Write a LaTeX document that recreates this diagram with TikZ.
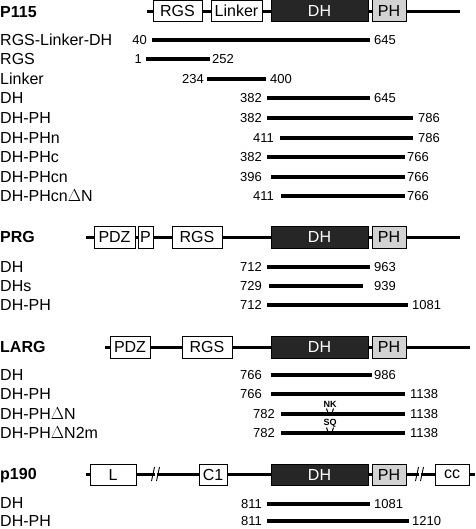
\documentclass[tikz,border=0pt]{standalone}
\usepackage{fontspec}
\setmainfont{Liberation Sans}
\definecolor{dhfill}{HTML}{262626}
\definecolor{phfill}{HTML}{D2D2D2}
\tikzset{
  lab/.style={anchor=base west, inner sep=0pt, font=\fontsize{16}{16}\selectfont},
  hdr/.style={anchor=base west, inner sep=0pt, font=\fontsize{16}{16}\selectfont\bfseries},
  numl/.style={anchor=base east, inner sep=0pt, font=\fontsize{13}{13}\selectfont},
  numr/.style={anchor=base west, inner sep=0pt, font=\fontsize{13}{13}\selectfont},
  dline/.style={line width=3pt},
  fline/.style={line width=4pt},
  dom/.style={draw=black, line width=1pt, fill=white, inner sep=0pt, font=\fontsize{16}{16}\selectfont},
  dhbox/.style={dom, fill=dhfill, text=white},
  phbox/.style={dom, fill=phfill},
  mut/.style={inner sep=0pt, font=\fontsize{9}{9}\selectfont\bfseries},
}
% #1 name, #2 y, #3 x1, #4 x2, #5 left number, #6 left number end x, #7 right number, #8 right number start x
\newcommand{\fragrow}[8]{%
  \coordinate (#1a) at (#3,#2);
  \coordinate (#1b) at (#4,#2);
  \draw[fline] (#1a) -- (#1b);
  \node[numl] (#1l) at (#6,#2+4.7) {#5};
  \node[numr] (#1r) at (#8,#2+4.7) {#7};
}
\begin{document}
\begin{tikzpicture}[x=1pt,y=-1pt]
\useasboundingbox (0,0) rectangle (475,529);

%%% P115
\node[hdr] (hp115) at (0,17.7) {P115};
\coordinate (p115s) at (147,12);
\coordinate (p115e) at (460,12);
\draw[dline] (p115s) -- (p115e);
\node[dom, minimum width=49pt, minimum height=21pt] (p115rgs) at (177.5,11) {RGS};
\node[dom, minimum width=51pt, minimum height=21pt] (p115lnk) at (236.5,11) {Linker};
\node[dhbox, minimum width=97pt, minimum height=22pt] (p115dh) at (319.5,11) {DH};
\node[phbox, minimum width=34pt, minimum height=22pt] (p115ph) at (389,11) {PH};

\node[lab] (l1) at (0,45.7) {RGS-Linker-DH};
\node[lab] (l2) at (0,64.7) {RGS};
\node[lab] (l3) at (0,84.7) {Linker};
\node[lab] (l4) at (0,103.7) {DH};
\node[lab] (l5) at (0,123.7) {DH-PH};
\node[lab] (l6) at (0,143.7) {DH-PHn};
\node[lab] (l7) at (0,162.7) {DH-PHc};
\node[lab] (l8) at (0,182.7) {DH-PHcn};
\node[lab] (l9) at (0,201.7) {DH-PHcn$\Delta$N};

\fragrow{fa}{40}{152}{370}{40}{147}{645}{374}
\fragrow{fb}{59}{146}{210}{1}{142}{252}{212}
\fragrow{fc}{79}{207}{266}{234}{204}{400}{270}
\fragrow{fd}{98}{267}{370}{382}{262}{645}{374}
\fragrow{fe}{118}{267}{413}{382}{262}{786}{418}
\fragrow{ff}{138}{280}{413}{411}{274}{786}{418}
\fragrow{fg}{157}{267}{405}{382}{262}{766}{407}
\fragrow{fh}{177}{271}{405}{396}{262}{766}{407}
\fragrow{fi}{196}{281}{405}{411}{274}{766}{407}

%%% PRG
\node[hdr] (hprg) at (0,242.7) {PRG};
\coordinate (prgs) at (86,237);
\coordinate (prge) at (460,237);
\draw[dline] (prgs) -- (prge);
\node[dom, minimum width=41pt, minimum height=22pt] (prgpdz) at (114.5,237) {PDZ};
\node[dom, minimum width=15pt, minimum height=22pt] (prgp) at (145.5,237) {P};
\node[dom, minimum width=50pt, minimum height=22pt] (prgrgs) at (197,237) {RGS};
\node[dhbox, minimum width=97pt, minimum height=22pt] (prgdh) at (319.5,237) {DH};
\node[phbox, minimum width=34pt, minimum height=22pt] (prgph) at (389,237) {PH};

\node[lab] (m1) at (0,272.7) {DH};
\node[lab] (m2) at (0,291.7) {DHs};
\node[lab] (m3) at (0,310.7) {DH-PH};

\fragrow{ga}{267}{267}{370}{712}{262}{963}{374}
\fragrow{gb}{286}{269}{363}{729}{262}{939}{374}
\fragrow{gc}{305}{267}{408}{712}{262}{1081}{412}

%%% LARG
\node[hdr] (hlarg) at (0,352.7) {LARG};
\coordinate (largs) at (105,347);
\coordinate (large) at (470,347);
\draw[dline] (largs) -- (large);
\node[dom, minimum width=40pt, minimum height=22pt] (largpdz) at (130,347) {PDZ};
\node[dom, minimum width=50pt, minimum height=22pt] (largrgs) at (207,347) {RGS};
\node[dhbox, minimum width=97pt, minimum height=22pt] (largdh) at (319.5,347) {DH};
\node[phbox, minimum width=34pt, minimum height=22pt] (largph) at (389,347) {PH};

\node[lab] (n1) at (0,380.7) {DH};
\node[lab] (n2) at (0,399.7) {DH-PH};
\node[lab] (n3) at (0,419.7) {DH-PH$\Delta$N};
\node[lab] (n4) at (0,438.7) {DH-PH$\Delta$N2m};

\fragrow{ha}{375}{271}{372}{766}{262}{986}{374}
\fragrow{hb}{394}{271}{405}{766}{262}{1138}{410}
\fragrow{hc}{414}{281}{405}{782}{275}{1138}{410}
\fragrow{hd}{433}{281}{405}{782}{275}{1138}{410}

\node[mut] (nk) at (330,404.5) {NK};
\node[mut] (sq) at (330,423.5) {SQ};
\draw[line width=1pt] (326.5,408.5) -- (328,413);
\draw[line width=1pt] (333.5,408.5) -- (332,413);
\draw[line width=1pt] (326.5,427.5) -- (328,432);
\draw[line width=1pt] (333.5,427.5) -- (332,432);

%%% p190
\node[hdr] (hp190) at (0,479.7) {p190};
\coordinate (p190s) at (86,474);
\coordinate (p190e) at (475,474);
\draw[dline] (p190s) -- (p190e);
% breaks
\fill[white] (154.5,471) rectangle (156.5,477);
\draw[line width=0.9pt] (151.5,481) -- (154.5,467);
\draw[line width=0.9pt] (156.5,481) -- (159.5,467);
\fill[white] (418.5,471) rectangle (420.5,477);
\draw[line width=0.9pt] (415.5,481) -- (418.5,467);
\draw[line width=0.9pt] (420.5,481) -- (423.5,467);
\node[dom, minimum width=46pt, minimum height=21pt] (p190l) at (113,474.5) {L};
\node[dom, minimum width=28pt, minimum height=21pt] (p190c1) at (213,474.5) {C1};
\node[dhbox, minimum width=97pt, minimum height=21pt] (p190dh) at (319.5,474.5) {DH};
\node[phbox, minimum width=34pt, minimum height=21pt] (p190ph) at (389,474.5) {PH};
\node[dom, minimum width=34pt, minimum height=21pt] (p190cc) at (452,474.5) {cc};

\node[lab] (o1) at (0,508.7) {DH};
\node[lab] (o2) at (0,526) {DH-PH};

\fragrow{ia}{503.5}{267}{370}{811}{262}{1081}{374}
\fragrow{ib}{521}{267}{409}{811}{262}{1210}{412}
\end{tikzpicture}
\end{document}
